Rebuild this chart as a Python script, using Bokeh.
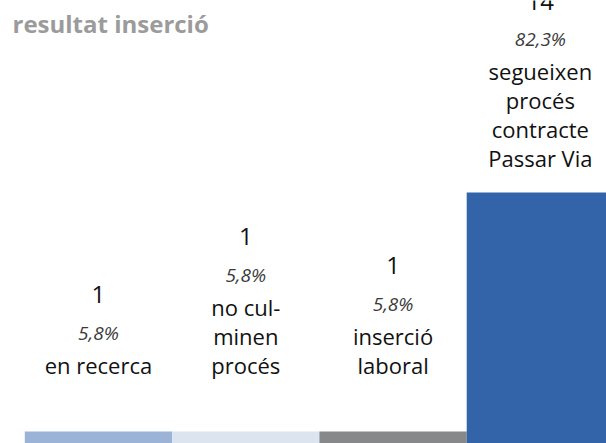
from bokeh.plotting import figure
from bokeh.models import ColumnDataSource, Label, Range1d
from bokeh.core.properties import value
from bokeh.embed import file_html
from bokeh.resources import INLINE

# ---- data ----
title_text = "resultat inserció"
categories = ["en recerca", "no culminen procés", "inserció laboral",
              "segueixen procés contracte Passar Via"]
counts = [1, 1, 1, 14]
percents = ["5,8%", "5,8%", "5,8%", "82,3%"]
descriptions = ["en recerca", "no cul-\nminen\nprocés", "inserció\nlaboral",
                "segueixen\nprocés\ncontracte\nPassar Via"]
colors = ["#9AB3D6", "#DCE4F0", "#87888A", "#3363A8"]

# ---- layout ----
W, H = 606, 443
FONT = value("Open Sans")
MIN_LABEL = 2.79      # minimum label anchor (data units)
GAP = -34             # px above anchor for last description line
LINE = 29             # description line pitch (px)
PCT_GAP = 32
CNT_GAP = 38

xs = list(range(len(categories)))
p = figure(width=W, height=H, output_backend="svg", toolbar_location=None,
           x_range=Range1d(-0.665, 3.449), y_range=Range1d(0.348, 24.44),
           x_axis_location=None, y_axis_location=None,
           min_border=0, outline_line_color=None,
           background_fill_color="white", border_fill_color="white")
p.grid.visible = False

bars = ColumnDataSource(dict(x=xs, top=counts, color=colors, cat=categories))
p.vbar(x="x", top="top", bottom=0, width=1.0, fill_color="color",
       line_color=None, source=bars)

cx, cy, co, ct = [], [], [], []
px_, py_, po, pt = [], [], [], []
dx, dy, do, dt = [], [], [], []
for i, (c, pc, desc) in enumerate(zip(counts, percents, descriptions)):
    anchor = max(c, MIN_LABEL)
    lines = desc.split("\n")
    n = len(lines)
    for j, ln in enumerate(lines):
        dx.append(xs[i]); dy.append(anchor); do.append(GAP - LINE * (n - 1 - j)); dt.append(ln)
    first = GAP - LINE * (n - 1)
    px_.append(xs[i]); py_.append(anchor); po.append(first - PCT_GAP); pt.append(pc)
    cx.append(xs[i]); cy.append(anchor); co.append(first - PCT_GAP - CNT_GAP); ct.append(str(c))

p.text(x="x", y="y", y_offset="o", text="t",
       source=ColumnDataSource(dict(x=dx, y=dy, o=do, t=dt)),
       text_font=FONT, text_font_size="22px", text_color="#111111",
       text_align="center", text_baseline="alphabetic")
p.text(x="x", y="y", y_offset="o", text="t",
       source=ColumnDataSource(dict(x=px_, y=py_, o=po, t=pt)),
       text_font=FONT, text_font_size="19px", text_font_style="italic",
       text_color="#3a3a3a", text_align="center", text_baseline="alphabetic")
p.text(x="x", y="y", y_offset="o", text="t",
       source=ColumnDataSource(dict(x=cx, y=cy, o=co, t=ct)),
       text_font=FONT, text_font_size="24px", text_color="#111111",
       text_align="center", text_baseline="alphabetic")

p.add_layout(Label(x=12, y=H - 23, x_units="screen", y_units="screen",
                   text=title_text, text_font="Open Sans", text_font_size="24px",
                   text_font_style="bold", text_color="#9b9b9b",
                   text_baseline="alphabetic"))

open("out.html", "w").write(file_html(p, INLINE))
